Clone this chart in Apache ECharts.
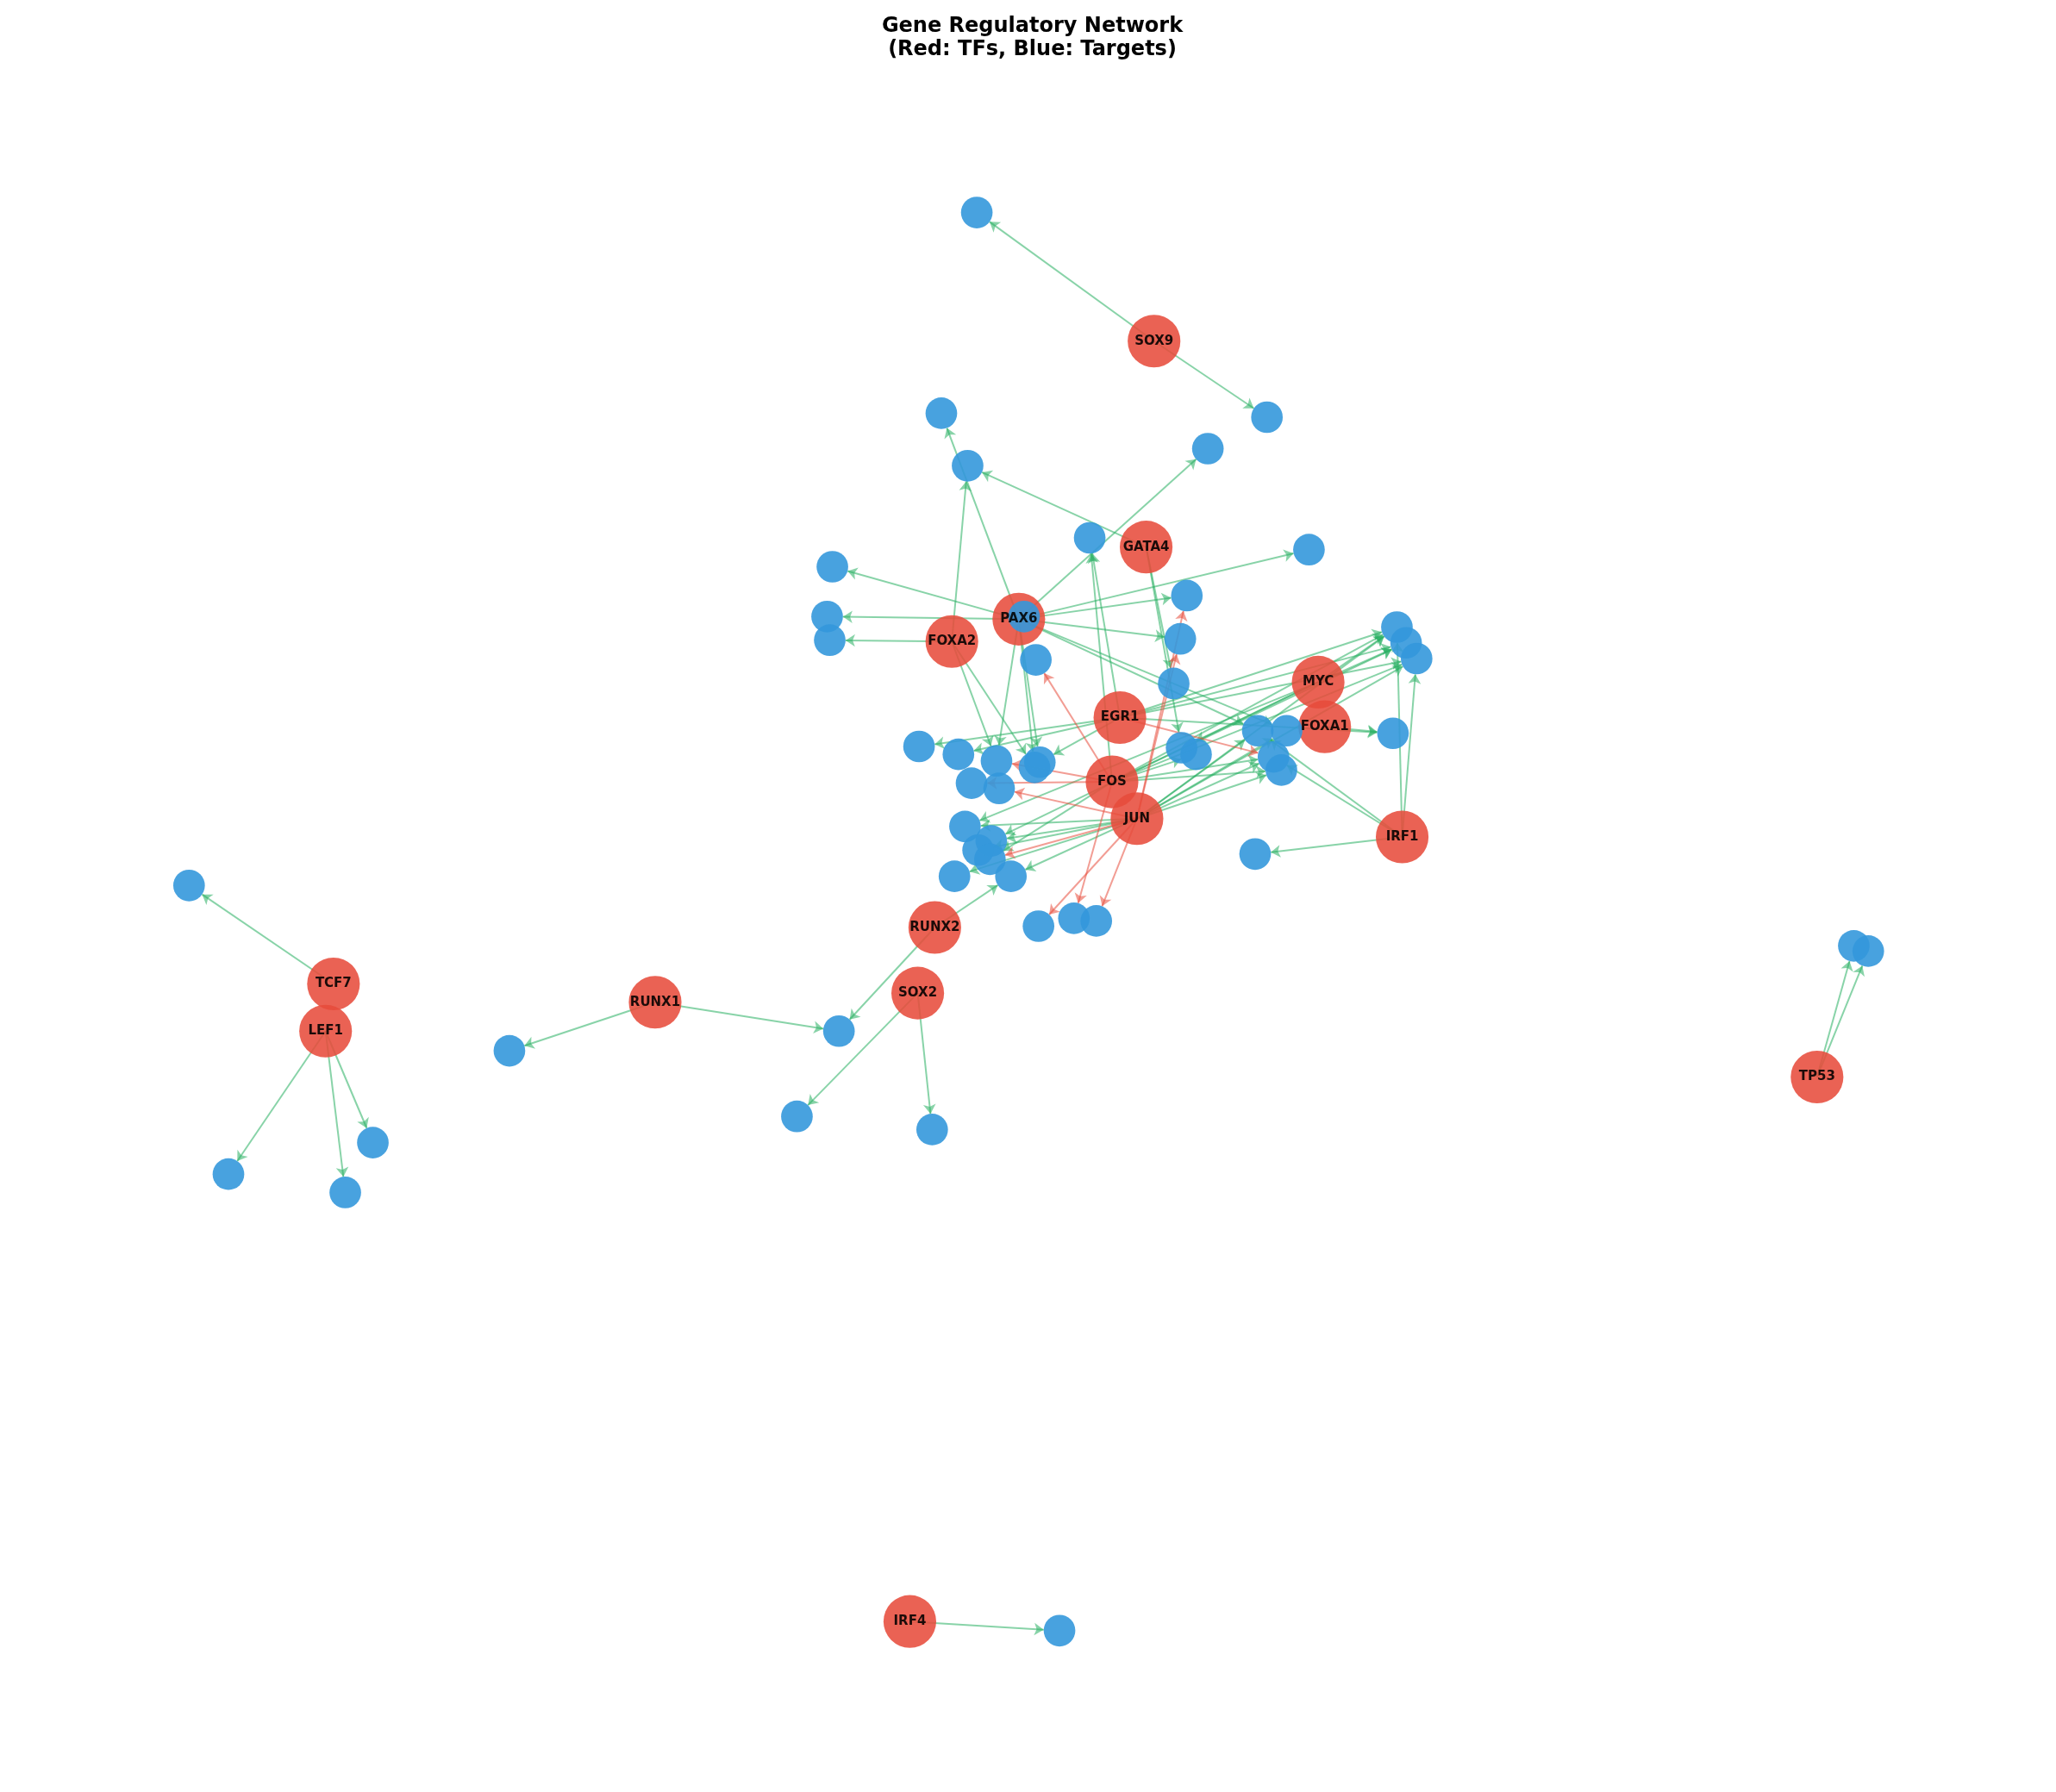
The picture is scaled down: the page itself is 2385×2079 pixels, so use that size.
<!DOCTYPE html><html><head><meta charset="utf-8"><script src="https://cdn.jsdelivr.net/npm/echarts@6/dist/echarts.min.js"></script>
<style>html,body{margin:0;padding:0;background:#fff}#c{width:2385px;height:2079px}</style></head><body><div id="c"></div><script>
const tfNames=['SOX9','GATA4','PAX6','FOXA2','MYC','EGR1','FOXA1','FOS','JUN','IRF1','RUNX2','TCF7','LEF1','RUNX1','SOX2','TP53','IRF4'];
const tfX=[879,873,776,725,1004,853,1009,847,866,1068,712,254,248,499,699,1384,693];
const tfY=[260,417,472,489,520,547,554,596,624,638,707,750,786,764,757,821,1236];
const tgNames=['a','b','c','d','e','f','g','h','i','j','k','l','m','n','o','p','q','r','s','t','u','v','w','x','y','z','aa','ab','ac','ad','ae','af','ag','ah','ai','aj','ak','al','am','an','ao','ap','aq','ar','as','at','au','av','aw','ax','ay','az','ba'];
const tgX=[744,965,717,737,920,830,997,634,630,632,780,904,899,789,894,1064,1071,1079,958,980,1061,900,911,970,976,700,730,759,792,788,740,761,735,755,745,754,727,770,956,791,818,835,144,388,639,607,710,174,263,284,1412,1423,807];
const tgY=[162,318,315,355,342,410,419,432,470,488,470,454,487,503,521,478,490,502,557,557,559,570,575,577,587,569,575,580,581,585,597,601,630,641,648,655,668,668,651,706,700,702,675,801,786,851,861,895,909,871,721,725,1243];
const actEdges=[['SOX9','a'],['SOX9','b'],['GATA4','d'],['FOXA2','d'],['PAX6','c'],['PAX6','e'],['EGR1','f'],['FOS','f'],['PAX6','g'],['PAX6','h'],['PAX6','i'],['FOXA2','j'],['PAX6','l'],['PAX6','m'],['GATA4','o'],['GATA4','v'],['PAX6','s'],['PAX6','t'],['EGR1','p'],['EGR1','q'],['EGR1','r'],['MYC','p'],['MYC','q'],['FOS','p'],['FOS','q'],['FOS','r'],['JUN','p'],['JUN','r'],['IRF1','p'],['IRF1','r'],['IRF1','am'],['IRF1','x'],['IRF1','s'],['EGR1','u'],['FOXA1','u'],['JUN','s'],['JUN','t'],['JUN','x'],['JUN','y'],['FOS','x'],['FOS','y'],['EGR1','z'],['EGR1','aa'],['JUN','ag'],['JUN','ah'],['JUN','ai'],['JUN','al'],['PAX6','ab'],['PAX6','ac'],['PAX6','ad'],['FOXA2','ad'],['MYC','ag'],['MYC','ah'],['FOS','w'],['MYC','v'],['RUNX2','al'],['RUNX2','as'],['TCF7','aq'],['RUNX1','ar'],['RUNX1','as'],['SOX2','at'],['SOX2','au'],['LEF1','av'],['LEF1','aw'],['LEF1','ax'],['TP53','ay'],['TP53','az'],['IRF4','ba'],['FOXA2','ab'],['EGR1','ac'],['FOS','aj'],['JUN','ak']];
const repEdges=[['JUN','l'],['JUN','m'],['FOS','n'],['FOS','ab'],['FOS','ae'],['JUN','aj'],['FOS','ao'],['JUN','ap'],['JUN','an'],['EGR1','x'],['JUN','af']];
const S=2385/1560;
const nodes=[];
tfNames.forEach((n,i)=>nodes.push({name:n,value:[tfX[i],tfY[i]],symbolSize:40*S,itemStyle:{color:'#e74c3c',opacity:0.88},label:{show:true}}));
tgNames.forEach((n,i)=>nodes.push({name:n,value:[tgX[i],tgY[i]],symbolSize:24*S,itemStyle:{color:'#3498db',opacity:0.9},label:{show:false}}));
const links=actEdges.map(e=>({source:e[0],target:e[1],lineStyle:{color:'#27ae60',opacity:0.55}})).concat(repEdges.map(e=>({source:e[0],target:e[1],lineStyle:{color:'#e74c3c',opacity:0.55}})));
const ch=echarts.init(document.getElementById('c'));
ch.setOption({
 animation:false,
 title:{text:'Gene Regulatory Network\n(Red: TFs, Blue: Targets)',top:12,textStyle:{fontSize:24,fontWeight:'bold',color:'#000',lineHeight:27,fontFamily:'DejaVu Sans'},textAlign:'center',left:'50%'},
 grid:{left:0,right:0,top:0,bottom:0},
 xAxis:{type:'value',min:0,max:1566,show:false},
 yAxis:{type:'value',min:0,max:1366,inverse:true,show:false},
 series:[{type:'graph',coordinateSystem:'cartesian2d',layout:'none',data:nodes,links:links,silent:true,
  emphasis:{disabled:true},
  edgeSymbol:['none','arrow'],edgeSymbolSize:[0,11],
  lineStyle:{width:2},
  label:{position:'inside',fontSize:15,fontWeight:'bold',color:'#000',fontFamily:'DejaVu Sans'}}]
});
</script></body></html>
